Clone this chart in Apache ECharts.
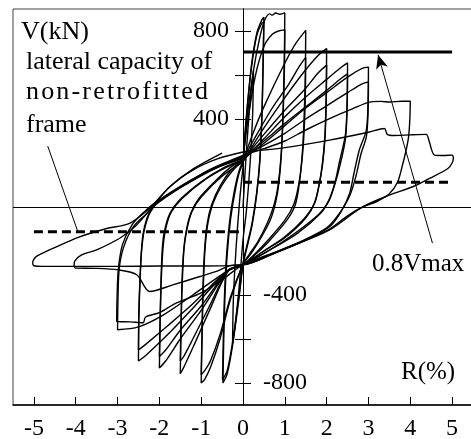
<!DOCTYPE html>
<html>
<head>
<meta charset="utf-8">
<script src="https://cdn.jsdelivr.net/npm/echarts@6/dist/echarts.min.js"></script>
<style>
  html, body { margin: 0; padding: 0; background: #fff; }
  #chart { width: 471px; height: 439px; }
</style>
</head>
<body>
<div id="chart"></div>
<script>
// Story drift R (%) and storey shear V (kN), one array per loading cycle
const loop025 = [[0,0],[0.08,250],[0.17,480],[0.25,620],[0.23,420],[0.17,200],[0.08,-20],[0,-150],[-0.1,-380],[-0.19,-540],[-0.25,-620],[-0.23,-420],[-0.17,-200],[-0.08,30],[0,180]];
const loop05a = [[0,180],[0.08,400],[0.2,640],[0.33,790],[0.45,850],[0.5,862],[0.48,650],[0.45,400],[0.4,200],[0.33,60],[0.22,-80],[0.1,-180],[0,-263],[-0.1,-420],[-0.25,-630],[-0.38,-760],[-0.48,-800],[-0.46,-600],[-0.43,-400],[-0.38,-220],[-0.3,-60],[-0.2,60],[-0.1,150],[0,200]];
const loop05b = [[0,200],[0.08,410],[0.2,630],[0.33,780],[0.45,835],[0.5,842],[0.48,640],[0.45,400],[0.4,210],[0.33,70],[0.22,-70],[0.1,-170],[0,-255],[-0.1,-410],[-0.25,-615],[-0.38,-745],[-0.49,-785],[-0.47,-590],[-0.44,-390],[-0.39,-210],[-0.31,-50],[-0.2,80],[-0.1,160],[0,210]];
const loop10a = [[0,210],[0.1,410],[0.25,620],[0.4,770],[0.52,850],[0.64,878],[0.7,872],[0.78,882],[0.88,876],[1.0,882],[0.99,700],[0.96,450],[0.92,250],[0.86,112],[0.78,20],[0.65,-60],[0.4,-150],[0.2,-210],[0,-263],[-0.3,-420],[-0.55,-600],[-0.78,-730],[-0.92,-785],[-1.0,-800],[-0.98,-600],[-0.96,-380],[-0.92,-200],[-0.86,-80],[-0.75,10],[-0.55,95],[-0.3,165],[0,215]];
const loop10b = [[0,215],[0.12,400],[0.3,600],[0.5,730],[0.7,785],[0.85,800],[1.0,805],[0.99,620],[0.96,420],[0.91,230],[0.84,100],[0.75,15],[0.6,-65],[0.35,-160],[0.15,-215],[0,-260],[-0.3,-410],[-0.55,-580],[-0.78,-700],[-0.92,-745],[-1.0,-762],[-0.98,-570],[-0.95,-370],[-0.91,-195],[-0.84,-75],[-0.72,15],[-0.5,100],[-0.25,165],[0,210]];
const loop15a = [[0,210],[0.25,340],[0.5,455],[0.95,635],[1.25,740],[1.5,803],[1.49,600],[1.46,400],[1.42,250],[1.35,112],[1.25,10],[1.05,-60],[0.6,-160],[0.3,-215],[0,-263],[-0.35,-290],[-0.8,-470],[-1.2,-640],[-1.42,-730],[-1.5,-758],[-1.48,-550],[-1.46,-350],[-1.42,-200],[-1.36,-112],[-1.25,-30],[-1.05,40],[-0.6,130],[-0.3,180],[0,215]];
const loop15b = [[0,215],[0.3,320],[0.7,450],[1.1,560],[1.35,640],[1.5,680],[1.49,500],[1.46,340],[1.41,210],[1.33,100],[1.22,15],[1.0,-60],[0.6,-150],[0.3,-210],[0,-262],[-0.35,-288],[-0.8,-450],[-1.2,-600],[-1.42,-680],[-1.5,-700],[-1.48,-510],[-1.45,-330],[-1.41,-190],[-1.34,-100],[-1.22,-20],[-1.0,45],[-0.5,140],[0,205]];
const loop20a = [[0,205],[0.4,330],[0.9,470],[1.4,600],[1.8,690],[2.0,720],[1.99,520],[1.96,330],[1.9,200],[1.83,112],[1.72,20],[1.5,-50],[1.0,-140],[0.5,-200],[0,-263],[-0.35,-290],[-1.0,-470],[-1.5,-600],[-1.85,-700],[-2.0,-732],[-1.98,-520],[-1.96,-330],[-1.93,-190],[-1.88,-112],[-1.75,-30],[-1.5,35],[-1.0,115],[-0.5,175],[0,215]];
const loop20b = [[0,215],[0.5,330],[1.0,440],[1.5,540],[1.8,610],[2.0,645],[1.99,470],[1.96,310],[1.9,190],[1.82,100],[1.7,15],[1.45,-55],[1.0,-135],[0.5,-200],[0,-263],[-0.35,-288],[-1.0,-450],[-1.5,-560],[-1.85,-650],[-2.0,-680],[-1.98,-490],[-1.95,-310],[-1.91,-180],[-1.85,-100],[-1.72,-25],[-1.45,40],[-0.9,125],[-0.4,180],[0,210]];
const loop25a = [[0,210],[0.5,310],[1.0,410],[1.5,500],[2.0,580],[2.35,635],[2.5,655],[2.49,480],[2.45,330],[2.3,200],[2.2,112],[2.05,30],[1.85,-30],[1.3,-120],[0.6,-200],[0,-263],[-0.35,-288],[-1.2,-460],[-1.8,-580],[-2.3,-670],[-2.5,-700],[-2.49,-500],[-2.46,-330],[-2.43,-200],[-2.38,-112],[-2.25,-30],[-2.0,30],[-1.4,105],[-0.7,175],[0,225]];
const loop25b = [[0,225],[0.5,300],[1.0,380],[1.5,455],[2.0,530],[2.35,585],[2.5,605],[2.49,450],[2.45,310],[2.32,190],[2.2,105],[2.05,25],[1.8,-35],[1.2,-125],[0.6,-200],[0,-263],[-0.35,-286],[-1.2,-440],[-1.8,-540],[-2.3,-620],[-2.5,-650],[-2.49,-470],[-2.46,-310],[-2.42,-190],[-2.36,-105],[-2.22,-25],[-1.95,35],[-1.3,110],[-0.6,180],[0,220]];
const loop30a = [[0,220],[0.5,290],[1.0,370],[1.5,450],[2.0,520],[2.5,590],[2.85,630],[3.0,636],[2.99,480],[2.95,350],[2.78,258],[2.65,150],[2.55,63],[2.35,-20],[2.07,-90],[1.5,-150],[0.8,-205],[0,-263],[-0.35,-288],[-1.2,-400],[-1.9,-490],[-2.5,-545],[-3.0,-558],[-2.99,-420],[-2.96,-280],[-2.85,-180],[-2.62,-89],[-2.3,-29],[-2.1,9],[-1.6,75],[-0.8,165],[0,230]];
const loop30b = [[0,230],[0.5,280],[1.0,335],[1.5,400],[2.0,460],[2.5,520],[2.85,560],[3.0,568],[2.99,430],[2.95,320],[2.82,240],[2.7,140],[2.55,50],[2.3,-30],[2.0,-95],[1.4,-155],[0.7,-210],[0,-263],[-0.5,-330],[-1.0,-390],[-1.59,-436],[-2.0,-480],[-2.33,-500],[-2.39,-526],[-2.7,-522],[-3.02,-520],[-3.01,-400],[-2.98,-280],[-2.88,-170],[-2.65,-80],[-2.35,-20],[-2.1,20],[-1.5,90],[-0.8,170],[0,235]];
const loop40 = [[0,235],[0.5,265],[1.0,300],[1.5,350],[2.07,402],[2.6,445],[3.06,478],[3.3,480],[3.5,477],[3.8,481],[4.0,481],[3.99,400],[3.96,320],[3.9,258],[3.8,180],[3.7,115],[3.5,60],[3.2,25],[2.86,0],[2.5,-40],[2.07,-100],[1.5,-150],[0.8,-205],[0,-263],[-0.25,-264],[-0.6,-290],[-1.03,-316],[-1.68,-354],[-2.23,-384],[-2.54,-308],[-2.98,-286],[-3.5,-279],[-4.0,-278],[-4.04,-266],[-4.02,-245],[-3.86,-218],[-3.5,-195],[-2.94,-141],[-2.58,-89],[-2.23,-14],[-1.75,92],[-1.2,168],[-0.6,220],[0,250]];
const loop50 = [[0,250],[1.0,270],[2.07,304],[3.0,340],[3.38,357],[3.45,330],[3.6,325],[4.0,328],[4.38,330],[4.45,300],[4.58,236],[4.8,234],[5.0,236],[5.03,222],[5.0,200],[4.9,175],[4.46,130],[4.06,92],[3.5,54],[2.86,0],[2.07,-104],[1.4,-160],[0.7,-215],[0,-263],[-1.0,-268],[-2.0,-268],[-3.0,-270],[-4.0,-270],[-4.8,-270],[-5.0,-267],[-5.03,-252],[-4.98,-232],[-4.9,-220],[-4.53,-187],[-3.94,-138],[-3.3,-100],[-2.7,-73],[-2.23,-5],[-1.75,92],[-1.2,172],[-0.5,245]];

const cycles = [loop025, loop05a, loop05b, loop10a, loop10b, loop15a, loop15b, loop20a, loop20b, loop25a, loop25b, loop30a, loop30b, loop40, loop50];

// Reference capacity levels (kN)
const vmax08 = [[0,704],[5,704]];
const bareFramePos = [[0,112],[5,112]];
const bareFrameNeg = [[-5,-112],[0,-112]];

// Axis ticks and labels
const xTicks = [-5,-4,-3,-2,-1,0,1,2,3,4,5];
const yTicks = [800,600,400,-400,-600,-800];
const yLabelsUpper = [800,400];
const yLabelsLower = [-400,-800];

const serif = "'Liberation Serif', 'Times New Roman', serif";
const chart = echarts.init(document.getElementById('chart'), null, { renderer: 'canvas' });

// Plot area: R from -5.5 to 5.5 over 460 px. The V axis sits at R = 0; it is drawn by two
// helper grids that meet there.
const gridLeft = 13, gridTop = 9, gridWidth = 460, gridHeight = 396, xMin = -5.5, xMax = 5.5;
const vMin = -900, vMax = 900;
const zeroShift = gridWidth * (0 - xMin) / (xMax - xMin);

const loopSeries = cycles.map(function (d) {
  return {
    type: 'line', data: d, showSymbol: false, smooth: 0.3, silent: true,
    lineStyle: { color: '#000', width: 1.4 }
  };
});

const refSeries = [
  { type: 'line', data: vmax08, showSymbol: false, silent: true, lineStyle: { color: '#000', width: 3 },
    markLine: {
      silent: true, symbol: ['none', 'arrow'], symbolSize: [9, 14], label: { show: false },
      lineStyle: { color: '#000', width: 1, type: 'solid' },
      data: [[{ coord: [4.53, -164] }, { coord: [3.23, 692] }]]
    }
  },
  { type: 'line', data: bareFramePos, showSymbol: false, silent: true, lineStyle: { color: '#000', width: 3, type: [9, 5] } },
  { type: 'line', data: bareFrameNeg, showSymbol: false, silent: true, lineStyle: { color: '#000', width: 3, type: [9, 5] },
    markLine: {
      silent: true, symbol: ['none', 'none'], label: { show: false },
      lineStyle: { color: '#000', width: 1, type: 'solid' },
      data: [
        [{ coord: [-4.67, 277] }, { coord: [-3.95, -112] }],
        [{ coord: [xMin, 0] }, { coord: [xMax, 0] }]
      ]
    }
  }
];

const textItems = [
  { type: 'text', x: 21, y: 32, style: { text: 'V(kN)', font: '26px ' + serif, fill: '#000', verticalAlign: 'middle' } },
  { type: 'text', x: 26, y: 62, style: { text: 'lateral capacity of', font: '26px ' + serif, fill: '#000', verticalAlign: 'middle' } },
  { type: 'text', x: 26, y: 92, style: { text: 'n\u200Ao\u200An\u200A-\u200Ar\u200Ae\u200At\u200Ar\u200Ao\u200Af\u200Ai\u200At\u200At\u200Ae\u200Ad', font: '26px ' + serif, fill: '#000', verticalAlign: 'middle' } },
  { type: 'text', x: 26, y: 125, style: { text: 'frame', font: '26px ' + serif, fill: '#000', verticalAlign: 'middle' } },
  { type: 'text', x: 372, y: 264, style: { text: '0.8Vmax', font: '25px ' + serif, fill: '#000', verticalAlign: 'middle' } },
  { type: 'text', x: 401, y: 372, style: { text: 'R(%)', font: '25px ' + serif, fill: '#000', verticalAlign: 'middle' } }
];

chart.setOption({
  animation: false,
  backgroundColor: '#fff',
  grid: [
    { left: gridLeft, top: gridTop, width: gridWidth, height: gridHeight, outerBoundsMode: 'none', containLabel: false,
      show: true, borderColor: '#444', borderWidth: 1 },
    { left: gridLeft + zeroShift, top: gridTop, width: gridWidth - zeroShift, height: gridHeight, outerBoundsMode: 'none', containLabel: false },
    { left: gridLeft, top: gridTop, width: zeroShift, height: gridHeight, outerBoundsMode: 'none', containLabel: false }
  ],
  xAxis: [
    {
      gridIndex: 0, type: 'value', min: xMin, max: xMax,
      axisLine: { onZero: false, lineStyle: { color: '#000', width: 1.5 } },
      axisTick: { inside: true, length: 8, customValues: xTicks, lineStyle: { color: '#000', width: 1 } },
      axisLabel: { customValues: xTicks, margin: 12, color: '#000', fontSize: 24, fontFamily: serif },
      splitLine: { show: false }
    },
    { gridIndex: 1, type: 'value', min: 0, max: xMax, show: false },
    { gridIndex: 2, type: 'value', min: xMin, max: 0, show: false }
  ],
  yAxis: [
    { gridIndex: 0, type: 'value', min: vMin, max: vMax, show: false },
    {
      gridIndex: 1, type: 'value', min: vMin, max: vMax, position: 'left',
      axisLine: { show: true, onZero: false, lineStyle: { color: '#000', width: 1 } },
      axisTick: { show: true, inside: false, length: 8, customValues: yTicks, lineStyle: { color: '#000', width: 1 } },
      axisLabel: { show: false },
      splitLine: { show: false }
    },
    {
      gridIndex: 2, type: 'value', min: vMin, max: vMax, position: 'right',
      axisLine: { show: true, onZero: false, lineStyle: { color: '#000', width: 1 } },
      axisTick: { show: true, inside: false, length: 8, customValues: yTicks, lineStyle: { color: '#000', width: 1 } },
      axisLabel: { customValues: yLabelsLower, margin: 20, color: '#000', fontSize: 24, fontFamily: serif },
      splitLine: { show: false }
    }
  ],
  graphic: textItems,
  series: loopSeries.concat(refSeries)
});

// Upper V labels sit to the left of the axis line, placed through the grid's own scale
const upperLabels = yLabelsUpper.map(function (v) {
  const p = chart.convertToPixel({ gridIndex: 0 }, [0, v]);
  return { type: 'text', x: p[0] - 14, y: p[1],
           style: { text: String(v), font: '24px ' + serif, fill: '#000', align: 'right', verticalAlign: 'middle' } };
});
chart.setOption({ graphic: textItems.concat(upperLabels) });
</script>
</body>
</html>
